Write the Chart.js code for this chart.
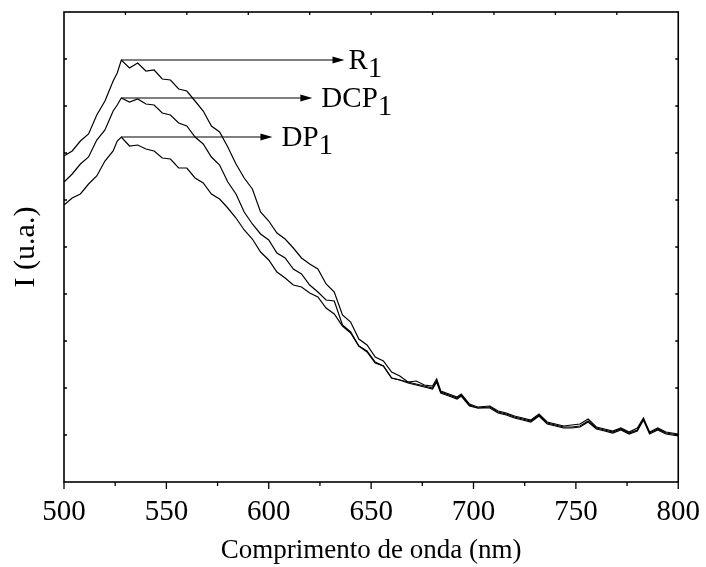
<!DOCTYPE html>
<html>
<head>
<meta charset="utf-8">
<script src="https://cdn.jsdelivr.net/npm/chart.js@4.4.1/dist/chart.umd.min.js"></script>
<style>
  html, body { margin: 0; padding: 0; background: #fff; }
  canvas { display: block; }
</style>
</head>
<body>
<canvas id="chart" width="706" height="567"></canvas>
<script>
// wavelength (nm) - shared by the 3 spectra
const wavelengths = [500, 504, 508, 512, 516, 520, 524, 526, 528, 532, 536, 540, 544, 548, 552, 556, 560, 564, 568, 572,
  576, 580, 584, 588, 592, 596, 600, 604, 608, 612, 616, 620, 624, 628, 632, 636, 640, 644, 648, 652,
  656, 660, 664, 668, 672, 676, 680, 682, 684, 688, 692, 694, 698, 702, 708, 712, 716, 720, 724, 728,
  732, 736, 740, 744, 748, 752, 756, 760, 764, 768, 772, 776, 780, 783, 786, 790, 794, 800];

// intensidade (u.a.)
const r1 = [326, 331, 341, 348, 367, 381, 401, 409, 422, 414, 419, 411, 412, 403, 402, 393, 391, 381, 371, 356,
  350, 335, 318, 304, 293, 270, 261, 249, 243, 234, 224, 218, 213, 198, 190, 167, 160, 143, 137, 125,
  121, 110, 106, 100, 101, 97, 96, 103, 91, 88, 85, 88, 78, 75, 76, 71, 69, 66, 64, 62,
  68, 60, 58, 56, 57, 58, 63, 55, 53, 51, 54, 50, 54, 64, 50, 54, 50, 48];

const dcp1 = [300, 308, 318, 325, 342, 352, 371, 377, 384, 380, 383, 378, 377, 369, 367, 359, 356, 345, 338, 325,
  317, 300, 288, 270, 258, 248, 242, 229, 224, 213, 208, 197, 190, 182, 181, 157, 150, 136, 130, 119,
  116, 104, 102, 100, 98, 96, 94, 101, 90, 87, 84, 87, 77, 74, 75, 70, 68, 65, 63, 61,
  67, 59, 57, 55, 55, 56, 61, 54, 52, 50, 53, 49, 52, 63, 49, 53, 49, 47];

const dp1 = [277, 284, 288, 298, 306, 321, 331, 341, 345, 336, 337, 333, 331, 324, 323, 314, 314, 304, 299, 288,
  283, 274, 264, 252, 243, 230, 222, 210, 204, 197, 195, 189, 185, 174, 168, 156, 149, 136, 131, 120,
  116, 104, 102, 99, 97, 95, 93, 100, 89, 86, 83, 86, 76, 74, 74, 69, 67, 64, 62, 60,
  66, 58, 56, 54, 54, 55, 60, 53, 51, 49, 52, 48, 51, 62, 48, 52, 48, 46];

const seriesNames = ['R', 'DCP', 'DP'];
const peakNm = 528;
const arrowEndNm = [637, 621.3, 601.8];

const xMajorTicks = [500, 550, 600, 650, 700, 750, 800];
const xMinorTicks = [525, 575, 625, 675, 725, 775];
const xTopTicks = [530, 560, 590, 620, 650, 680, 710, 740, 770];
const yTicks = [47, 94, 141, 188, 235, 282, 329, 376, 423];

const serif = "'Liberation Serif', 'Times New Roman', serif";

const allSeries = [r1, dcp1, dp1];

// moldura, marcas dos eixos e setas com os nomes
const decorPlugin = {
  id: 'decor',
  afterDatasetsDraw(chart) {
    const ctx = chart.ctx;
    const a = chart.chartArea;
    const xs = chart.scales.x;
    const ys = chart.scales.y;
    ctx.save();
    ctx.strokeStyle = '#000';
    ctx.fillStyle = '#000';

    ctx.lineWidth = 1.3;
    ctx.beginPath();
    xMajorTicks.forEach(v => {
      const px = xs.getPixelForValue(v);
      ctx.moveTo(px, a.bottom); ctx.lineTo(px, a.bottom + 7);
    });
    xMinorTicks.forEach(v => {
      const px = xs.getPixelForValue(v);
      ctx.moveTo(px, a.bottom); ctx.lineTo(px, a.bottom + 4);
    });
    xTopTicks.forEach(v => {
      const px = xs.getPixelForValue(v);
      ctx.moveTo(px, a.top); ctx.lineTo(px, a.top + 3);
    });
    yTicks.forEach(v => {
      const py = ys.getPixelForValue(v);
      ctx.moveTo(a.left, py); ctx.lineTo(a.left + 3, py);
      ctx.moveTo(a.right, py); ctx.lineTo(a.right - 3, py);
    });
    ctx.stroke();

    ctx.lineWidth = 1.6;
    ctx.strokeRect(a.left, a.top, a.right - a.left, a.bottom - a.top);

    // setas
    const iPeak = wavelengths.indexOf(peakNm);
    const x0 = xs.getPixelForValue(peakNm);
    ctx.lineWidth = 1.2;
    allSeries.forEach((vals, i) => {
      const y = ys.getPixelForValue(vals[iPeak]);
      const x1 = xs.getPixelForValue(arrowEndNm[i]);
      ctx.beginPath();
      ctx.moveTo(x0, y);
      ctx.lineTo(x1 - 10, y);
      ctx.stroke();
      ctx.beginPath();
      ctx.moveTo(x1, y);
      ctx.lineTo(x1 - 12, y - 3.5);
      ctx.lineTo(x1 - 12, y + 3.5);
      ctx.closePath();
      ctx.fill();

      ctx.font = '29px ' + serif;
      ctx.textBaseline = 'alphabetic';
      ctx.textAlign = 'left';
      const tx = x1 + (i === 0 ? 4 : 9);
      ctx.fillText(seriesNames[i], tx, y + 9);
      const w = ctx.measureText(seriesNames[i]).width;
      ctx.fillText('1', tx + w, y + 17);
    });
    ctx.restore();
  }
};

const ctx = document.getElementById('chart').getContext('2d');
new Chart(ctx, {
  type: 'line',
  data: {
    datasets: allSeries.map((vals, i) => ({
      label: seriesNames[i] + '1',
      data: wavelengths.map((w, j) => ({ x: w, y: vals[j] })),
      borderColor: '#000',
      borderWidth: 1.2,
      pointRadius: 0,
      tension: 0,
      fill: false
    }))
  },
  options: {
    responsive: false,
    animation: false,
    devicePixelRatio: 1,
    layout: { padding: { top: 12, right: 26, left: 0, bottom: 0 } },
    plugins: { legend: { display: false }, tooltip: { enabled: false } },
    scales: {
      x: {
        type: 'linear',
        min: 500,
        max: 800,
        afterBuildTicks: s => { s.ticks = xMajorTicks.map(v => ({ value: v })); },
        ticks: { font: { family: serif, size: 29 }, color: '#000', padding: 6, maxRotation: 0, autoSkip: false },
        grid: { display: true, drawOnChartArea: false, drawTicks: true, tickLength: 7, color: 'rgba(0,0,0,0)' },
        border: { display: false },
        title: { display: true, text: 'Comprimento de onda (nm)', font: { family: serif, size: 27 }, color: '#000', padding: { top: 0, bottom: 0 } },
        afterFit: s => { s.height = 85; }
      },
      y: {
        type: 'linear',
        min: 0,
        max: 470,
        ticks: { display: false },
        grid: { display: false, drawTicks: false },
        border: { display: false },
        title: { display: true, text: 'I (u.a.)', font: { family: serif, size: 30 }, color: '#000', padding: { top: 8, bottom: 0 } },
        afterFit: s => { s.width = 64; }
      }
    }
  },
  plugins: [decorPlugin]
});
</script>
</body>
</html>
